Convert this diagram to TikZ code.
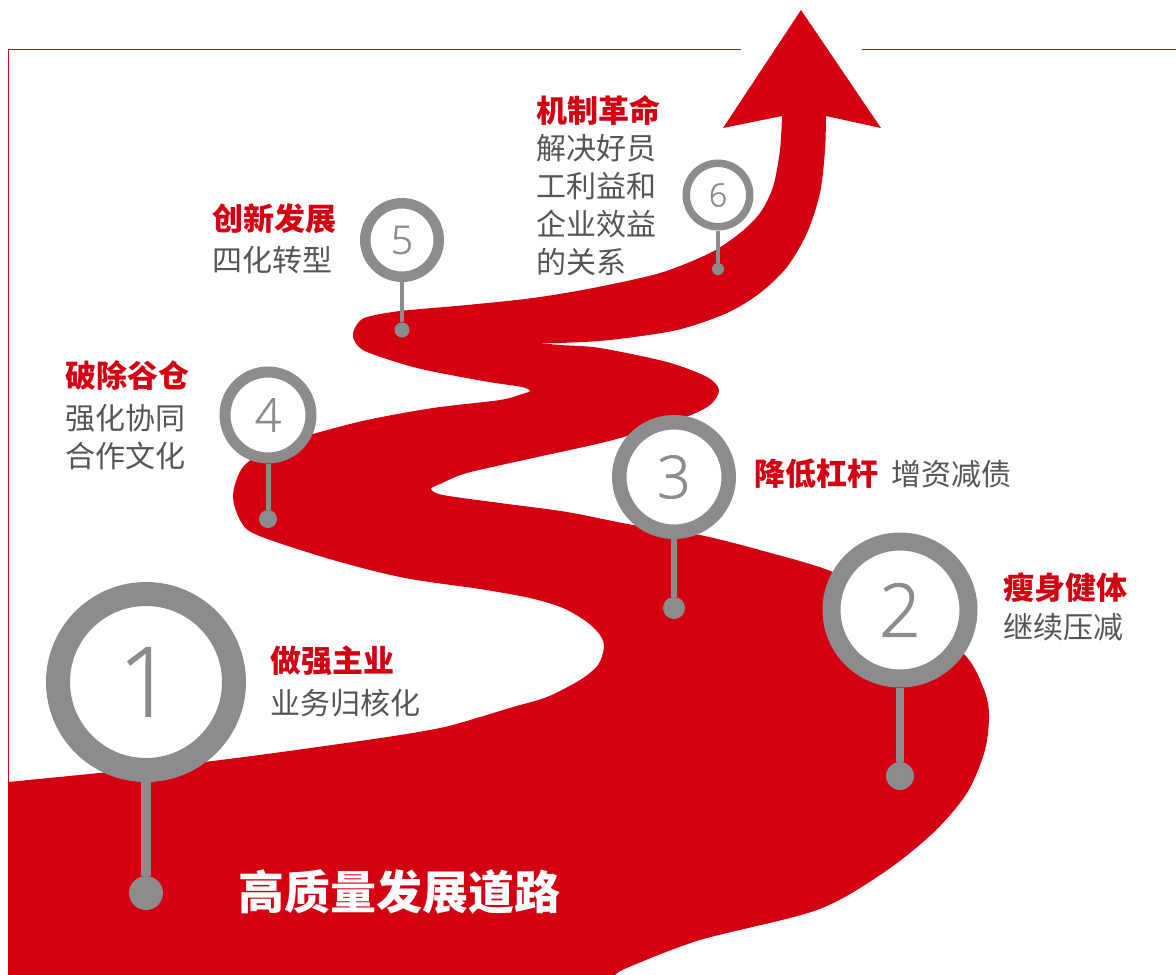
\documentclass[tikz,border=0pt]{standalone}
\usepackage{fontspec}
\setmainfont{Noto Sans CJK SC}
\newfontfamily\numfont[FakeBold=1.2]{Open Sans Light}
\usetikzlibrary{positioning}
\definecolor{roadred}{RGB}{212,0,18}
\definecolor{ringgray}{RGB}{140,140,140}
\definecolor{textgray}{RGB}{85,85,85}
\tikzset{
  road/.style={fill=roadred},
  frame/.style={draw=roadred,line width=1pt},
  ring/.style={circle,draw=ringgray,fill=white,inner sep=0pt,text=ringgray},
  pin/.style={circle,fill=ringgray,inner sep=0pt},
  stem/.style={draw=ringgray},
  head/.style={font=\fontsize{31}{38}\selectfont\bfseries,text=roadred,inner sep=0pt},
  sub/.style={font=\fontsize{30}{38}\selectfont,text=textgray,inner sep=0pt,align=left},
  title/.style={font=\fontsize{46}{52}\selectfont\bfseries,text=white,inner sep=0pt}
}

\begin{document}
\begin{tikzpicture}[x=1pt,y=-1pt]
  \useasboundingbox (0,0) rectangle (1176,975);

  % Frame
  \draw[frame] (8,975) -- (8,49) -- (741,49);
  \draw[frame] (862,49) -- (1176,49);

  % Winding road with arrow
  \fill[road] (8,975) -- (8,782)
    -- plot[smooth] coordinates {(8,782) (204,762) (367,740) (440,728) (480,717) (513,707) (547,697) (580,680) (598,665) (604,647) (600,635) (587,622) (563,608) (530,598) (480,589) (405,578) (333,560) (257,535) (240,520) (233,495) (243,467) (272,447) (313,434) (367,420) (433,408) (500,400) (522,394) (530,391) (522,387) (483,381) (417,368) (367,352) (355,342) (353,333) (358,323) (367,317) (400,311) (467,305) (533,298) (593,288) (660,273) (710,253) (740,233) (760,213) (773,187) (780,150) (782,116)}
    -- (723,128) -- (801,10) -- (881,128) -- (826,116)
    -- plot[smooth] coordinates {(826,116) (825,150) (820,193) (807,233) (787,267) (760,293) (727,313) (677,330) (610,340) (560,343) (541,343) (560,345) (600,348) (667,362) (707,377) (719,390) (710,405) (683,418) (613,440) (533,458) (467,473) (440,484) (431,489) (443,495) (500,503) (567,512) (633,525) (700,535) (767,552) (833,572) (900,607) (963,653) (983,687) (989,713) (985,750) (967,793) (933,833) (883,873) (817,910) (700,940) (629,967) (615,975)}
    -- cycle;

  % Markers: ring, pin and stem
  \foreach \n/\x/\y/\s/\w/\dy/\d/\lw/\fs in {
      1/146/682/176/24/893/34/10/97,
      2/900/610/137/18/776/28/8/74,
      3/674/477/109.5/14.5/608/22/5.5/59,
      4/268/415/86/11/519/18/5/46,
      5/402/240/73.5/10.5/330/15/4.5/39,
      6/718/195/63.5/7.5/269/12/4/32}{
    \node[ring,minimum size=\s pt,line width=\w pt,font=\numfont\fontsize{\fs}{\fs}\selectfont] (c\n) at (\x,\y) {\n};
    \node[pin,minimum size=\d pt] (d\n) at (\x,\dy) {};
    \draw[stem,line width=\lw pt] (c\n) -- (d\n);
  }

  % Labels
  \node[head,anchor=west] (h1) at (270,661) {做强主业};
  \node[sub,below=13pt of h1.south west,anchor=north west] (s1) {业务归核化};

  \node[head,anchor=west] (h2) at (1003,588) {瘦身健体};
  \node[sub,below=10pt of h2.south west,anchor=north west] (s2) {继续压减};

  \node[head,anchor=west] (h3) at (754,474) {降低杠杆};
  \node[sub,right=13pt of h3] (s3) {增资减债};

  \node[head,anchor=west] (h4) at (65,375) {破除谷仓};
  \node[sub,below=14pt of h4.south west,anchor=north west] (s4) {强化协同\\合作文化};

  \node[head,anchor=west] (h5) at (212,219) {创新发展};
  \node[sub,below=12pt of h5.south west,anchor=north west] (s5) {四化转型};

  \node[head,anchor=west] (h6) at (536,110) {机制革命};
  \node[sub,below=9pt of h6.south west,anchor=north west] (s6) {解决好员\\工利益和\\企业效益\\的关系};

  \node[title,anchor=west] (t) at (238,892) {高质量发展道路};
\end{tikzpicture}
\end{document}
